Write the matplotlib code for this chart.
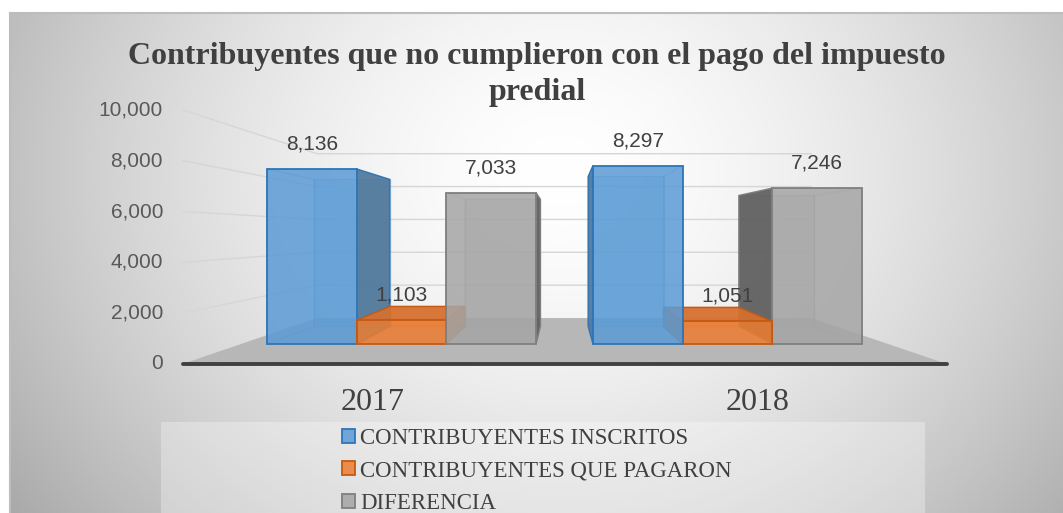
import numpy as np
import matplotlib.pyplot as plt
from matplotlib.patches import Polygon, Rectangle
from matplotlib.colors import to_rgba

# data
years = ['2017', '2018']
series = ['CONTRIBUYENTES INSCRITOS', 'CONTRIBUYENTES QUE PAGARON', 'DIFERENCIA']
inscritos = [8136, 8297]
pagaron = [1103, 1051]
diferencia = [7033, 7246]
values = [inscritos, pagaron, diferencia]
y_ticks = [0, 2000, 4000, 6000, 8000, 10000]

face_colors = ['#5b9bd5', '#ed7d31', '#a5a5a5']
edge_colors = ['#2e75b6', '#c55a11', '#7f7f7f']
side_colors = ['#50789a', '#c4652a', '#5e5e5e']
top_colors = ['#4f88bf', '#d7702f', '#8c8c8c']

W, H = 1063, 513
fig = plt.figure(figsize=(W / 100, H / 100), dpi=100)

# background (pixel coords)
bg = fig.add_axes([0, 0, 1, 1])
bg.set_xlim(0, W)
bg.set_ylim(H, 0)
bg.axis('off')
yy, xx = np.mgrid[13:H, 10:W]
r = np.sqrt(((xx - 560) / 550.0) ** 2 + ((yy - 170) / 470.0) ** 2)
shade = 1 - 0.24 * np.clip(r, 0, 1.3) ** 1.6
rgb = np.dstack([shade, shade, shade])
bg.imshow(rgb, extent=[10, W, H, 13], aspect='auto', interpolation='bilinear')
bg.plot([10, W], [13, 13], color='#bdbdbd', lw=1.5)
bg.plot([10, 10], [13, H], color='#bdbdbd', lw=1.5)
bg.add_patch(Rectangle((161, 422), 764, 100, facecolor='white', alpha=0.3,
                       edgecolor='none'))

bg.text(537, 64, 'Contribuyentes que no cumplieron con el pago del impuesto',
        ha='center', va='baseline', fontsize=23, fontweight='bold',
        family='Liberation Serif', color='#404040')
bg.text(537, 100, 'predial', ha='center', va='baseline', fontsize=23,
        fontweight='bold', family='Liberation Serif', color='#404040')

# main axes: x in bar widths, y in values (front plane of bars)
bar_px = 89.7
px_per_unit = 0.02151
x0_px, base_px = 267, 344
ax = fig.add_axes([0, 0, 1, 1])
ax.axis('off')
ax.set_xlim(-x0_px / bar_px, (W - x0_px) / bar_px)
ax.set_ylim(-(H - base_px) / px_per_unit, base_px / px_per_unit)

group_step = 3.634
vp = (3.30, 5114.0)
s_front, s_wall, s_bar = 1.18, 0.764, 0.84
x_left = -0.29
x_right = group_step + 3 + 0.29


def proj(x, v, s):
    return (vp[0] + s * (x - vp[0]), vp[1] + s * (v - vp[1]))


# floor
floor = [proj(x_left, 0, s_front), proj(x_right, 0, s_front),
         proj(x_right, 0, s_wall), proj(x_left, 0, s_wall)]
ax.add_patch(Polygon(floor, closed=True, facecolor='#b7b7b7', edgecolor='none', zorder=1))

# gridlines + tick labels
for v in y_ticks:
    p0 = proj(x_left, v, s_front)
    p1 = proj(x_left, v, s_wall)
    p2 = proj(x_right, v, s_wall)
    if v > 0:
        ax.plot([p0[0], p1[0], p2[0]], [p0[1], p1[1], p2[1]], color='#d6d6d6',
                lw=1.0, zorder=1.5)
    ax.annotate(f'{v:,}', p0, xytext=(-14.4, 0), textcoords='offset points',
                ha='right', va='center', fontsize=15, color='#595959',
                family='Liberation Sans')

fl = proj(x_left, 0, s_front)
fr = proj(x_right, 0, s_front)
ax.plot([fl[0], fr[0]], [fl[1], fr[1]], color='#404040', lw=2.8,
        solid_capstyle='round', zorder=2)

# bars
containers = []
for i, vals in enumerate(values):
    xs = [g * group_step + i for g in range(len(years))]
    bars = ax.bar(xs, vals, width=1, align='edge',
                  color=to_rgba(face_colors[i], 0.85),
                  edgecolor=edge_colors[i], linewidth=1.3, label=series[i])
    containers.append(bars)

# draw order: farthest from vanishing point first
items = []
for i, bars in enumerate(containers):
    for patch, h in zip(bars.patches, values[i]):
        xa = patch.get_x()
        items.append((abs(xa + 0.5 - vp[0]), i, patch, xa, h))
items.sort(key=lambda t: -t[0])

for k, (_, i, patch, xa, h) in enumerate(items):
    xb = xa + 1
    z = 3 + k * 0.1
    back = [proj(xa, 0, s_bar), proj(xb, 0, s_bar), proj(xb, h, s_bar), proj(xa, h, s_bar)]
    left = [(xa, 0), (xa, h), proj(xa, h, s_bar), proj(xa, 0, s_bar)]
    right = [(xb, 0), (xb, h), proj(xb, h, s_bar), proj(xb, 0, s_bar)]
    top = [(xa, h), (xb, h), proj(xb, h, s_bar), proj(xa, h, s_bar)]
    ax.add_patch(Polygon(back, facecolor=to_rgba(face_colors[i], 0.3),
                         edgecolor=to_rgba(edge_colors[i], 0.35), lw=1.0, zorder=z))
    if xb <= vp[0]:
        vis, hid = right, left
    else:
        vis, hid = left, right
    ax.add_patch(Polygon(hid, facecolor='none', edgecolor=to_rgba(edge_colors[i], 0.3),
                         lw=1.0, zorder=z + 0.01))
    ax.add_patch(Polygon(vis, facecolor=to_rgba(side_colors[i], 0.92),
                         edgecolor=edge_colors[i], lw=1.0, zorder=z + 0.02))
    if h < vp[1]:
        ax.add_patch(Polygon(top, facecolor=to_rgba(top_colors[i], 0.92),
                             edgecolor=edge_colors[i], lw=1.0, zorder=z + 0.03))
    patch.set_zorder(z + 0.05)
    ax.annotate(f'{h:,}', (xa + 0.5, h), xytext=(0, 18), textcoords='offset points',
                ha='center', va='center', fontsize=15, color='#404040',
                family='Liberation Sans', zorder=20)

# category labels
for g, year in enumerate(years):
    p = proj(g * group_step + 1.5, 0, s_front)
    ax.annotate(year, p, xytext=(0, -28), textcoords='offset points',
                ha='center', va='center', fontsize=23, color='#404040',
                family='Liberation Serif')

leg = fig.legend(handles=containers, labels=series, loc='upper left',
                 bbox_to_anchor=(342 / W, 1 - 428 / H), frameon=False,
                 borderpad=0, borderaxespad=0, handlelength=0.55, handleheight=0.55,
                 handletextpad=0.25, labelspacing=0.5,
                 prop={'family': 'Liberation Serif', 'size': 16.5})
for t in leg.get_texts():
    t.set_color('#404040')

fig.savefig('out.png', dpi=100)
